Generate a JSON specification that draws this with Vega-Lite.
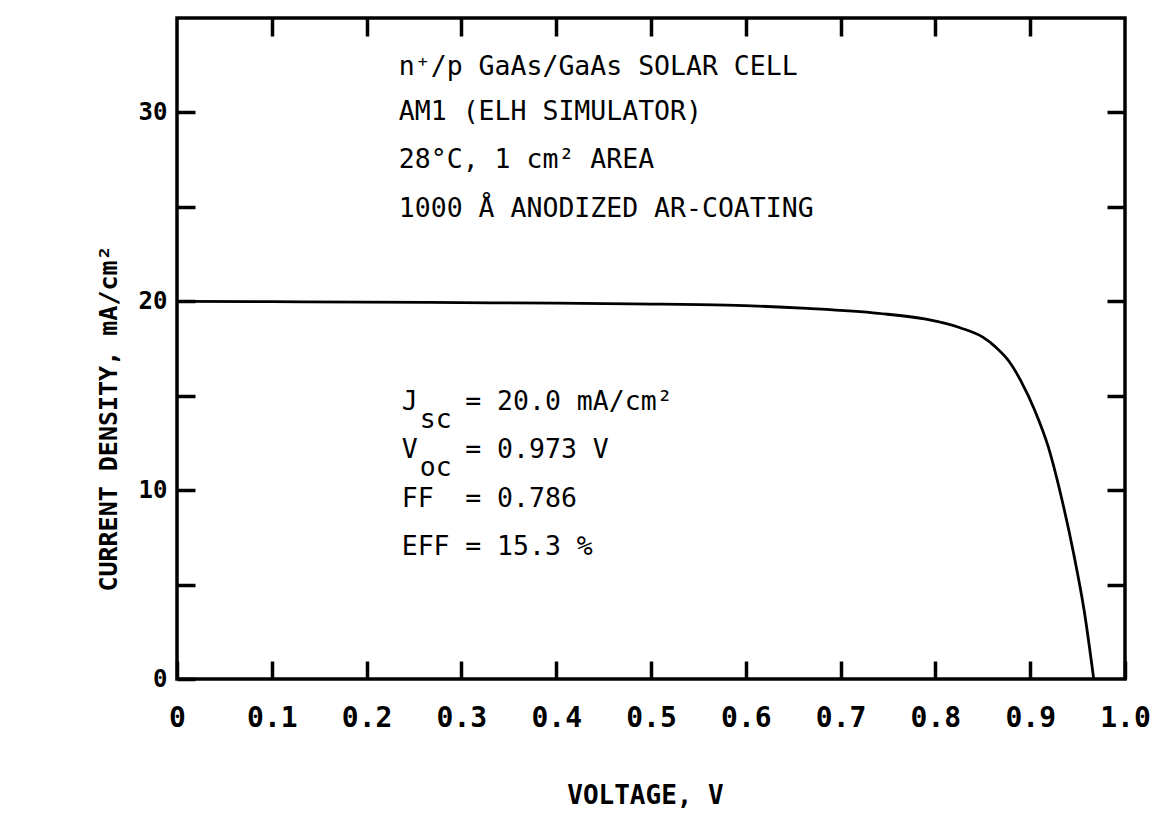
{
  "$schema": "https://vega.github.io/schema/vega-lite/v6.json",
  "autosize": {"type": "none"},
  "width": 948,
  "height": 661,
  "padding": {"left": 177, "top": 18, "right": 31, "bottom": 154},
  "background": "white",
  "config": {
    "view": {"stroke": "black", "strokeWidth": 3.5},
    "font": "DejaVu Sans Mono",
    "axis": {
      "grid": false,
      "domain": false,
      "tickColor": "black",
      "tickWidth": 3.5,
      "tickSize": -18,
      "labelColor": "black",
      "titleColor": "black",
      "labelFont": "DejaVu Sans Mono",
      "titleFont": "DejaVu Sans Mono"
    }
  },
  "datasets": {
    "curve": [
      {"V": 0.0, "J": 20.0},
      {"V": 0.1, "J": 19.98},
      {"V": 0.2, "J": 19.96},
      {"V": 0.3, "J": 19.93},
      {"V": 0.4, "J": 19.9},
      {"V": 0.48, "J": 19.86},
      {"V": 0.58, "J": 19.8},
      {"V": 0.665, "J": 19.62},
      {"V": 0.74, "J": 19.36},
      {"V": 0.79, "J": 19.05},
      {"V": 0.826, "J": 18.6},
      {"V": 0.85, "J": 18.1},
      {"V": 0.863, "J": 17.6},
      {"V": 0.878, "J": 16.8},
      {"V": 0.89, "J": 15.8},
      {"V": 0.905, "J": 14.2},
      {"V": 0.919, "J": 12.3},
      {"V": 0.933, "J": 9.6},
      {"V": 0.946, "J": 6.6},
      {"V": 0.957, "J": 3.6},
      {"V": 0.967, "J": 0.0}
    ],
    "notes": [
      {"x": 0.234, "y": 31.98, "text": "n⁺/p GaAs/GaAs SOLAR CELL"},
      {"x": 0.234, "y": 29.6, "text": "AM1 (ELH SIMULATOR)"},
      {"x": 0.234, "y": 27.06, "text": "28°C, 1 cm² AREA"},
      {"x": 0.234, "y": 24.46, "text": "1000 Å ANODIZED AR-COATING"},
      {"x": 0.237, "y": 14.24, "text": "J"},
      {"x": 0.256, "y": 13.29, "text": "sc"},
      {"x": 0.304, "y": 14.24, "text": "= 20.0 mA/cm²"},
      {"x": 0.237, "y": 11.7, "text": "V"},
      {"x": 0.256, "y": 10.75, "text": "oc"},
      {"x": 0.304, "y": 11.7, "text": "= 0.973 V"},
      {"x": 0.237, "y": 9.11, "text": "FF"},
      {"x": 0.304, "y": 9.11, "text": "= 0.786"},
      {"x": 0.237, "y": 6.57, "text": "EFF"},
      {"x": 0.304, "y": 6.57, "text": "= 15.3 %"}
    ]
  },
  "layer": [
    {
      "data": {"name": "curve"},
      "mark": {"type": "line", "color": "black", "strokeWidth": 2.8, "interpolate": "monotone"},
      "encoding": {
        "x": {
          "field": "V", "type": "quantitative",
          "scale": {"domain": [0, 1], "nice": false, "zero": false},
          "axis": {
            "orient": "bottom",
            "values": [0, 0.1, 0.2, 0.3, 0.4, 0.5, 0.6, 0.7, 0.8, 0.9, 1.0],
            "labelExpr": "datum.value == 0 ? '0' : format(datum.value, '.1f')",
            "labelFontSize": 28,
            "labelFontWeight": "bold",
            "labelPadding": 43,
            "labelFlush": false,
            "title": "VOLTAGE, V",
            "titleFontSize": 26,
            "titleFontWeight": "bold",
            "titleBaseline": "middle",
            "titleY": 116,
            "titleX": 468
          }
        },
        "y": {
          "field": "J", "type": "quantitative",
          "scale": {"domain": [0, 35], "nice": false},
          "axis": {
            "orient": "left",
            "values": [0, 5, 10, 15, 20, 25, 30],
            "labelExpr": "datum.value % 10 == 0 ? datum.label : ''",
            "labelFontSize": 24,
            "labelFontWeight": "bold",
            "labelPadding": 28,
            "labelFlush": false,
            "title": "CURRENT DENSITY, mA/cm²",
            "titleFontSize": 25,
            "titleFontWeight": "bold",
            "titleAngle": -90,
            "titleAlign": "center",
            "titleBaseline": "middle",
            "titleX": -69,
            "titleY": 400
          }
        }
      }
    },
    {
      "data": {"name": "notes"},
      "mark": {"type": "text", "align": "left", "baseline": "alphabetic", "fontSize": 26.5, "font": "DejaVu Sans Mono", "color": "black"},
      "encoding": {
        "x": {
          "field": "x", "type": "quantitative",
          "axis": {
            "orient": "top",
            "values": [0.1, 0.2, 0.3, 0.4, 0.5, 0.6, 0.7, 0.8, 0.9],
            "labels": false,
            "title": null
          }
        },
        "y": {
          "field": "y", "type": "quantitative",
          "axis": {
            "orient": "right",
            "values": [5, 10, 15, 20, 25, 30],
            "labels": false,
            "title": null
          }
        },
        "text": {"field": "text"}
      }
    }
  ],
  "resolve": {"axis": {"x": "independent", "y": "independent"}}
}
